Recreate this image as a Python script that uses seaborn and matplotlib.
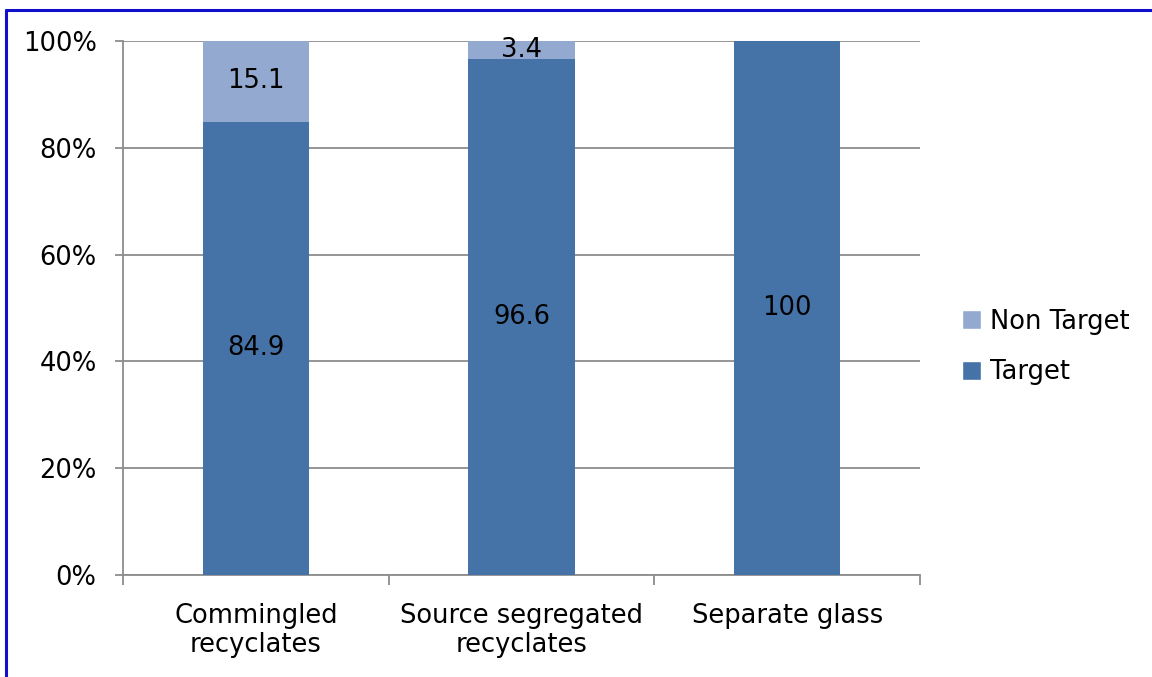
import matplotlib
matplotlib.use("Agg")
import matplotlib.pyplot as plt
from matplotlib.lines import Line2D
from matplotlib.patches import Patch
from matplotlib.ticker import PercentFormatter
import seaborn as sns
import pandas as pd

categories = ["Commingled\nrecyclates", "Source segregated\nrecyclates", "Separate glass"]
target = [84.9, 96.6, 100.0]
non_target = [15.1, 3.4, 0.0]

target_color = "#4673A7"
non_target_color = "#94A9CF"
grid_color = "#8C8C8C"

sns.set_theme(style="white")
plt.rcParams["font.family"] = ["DejaVu Sans"]

df = pd.DataFrame({"category": categories, "Target": target, "Non Target": non_target})
df["total"] = df["Target"] + df["Non Target"]

fig = plt.figure(figsize=(11.52, 6.77), dpi=100)
ax = fig.add_axes([123 / 1152, 1 - 575 / 677, (920 - 123) / 1152, (575 - 41) / 677])

# stacked bars: full height in the light colour, target share drawn over it
sns.barplot(data=df, x="category", y="total", color=non_target_color, width=0.4,
            saturation=1, linewidth=0, ax=ax, zorder=2)
sns.barplot(data=df, x="category", y="Target", color=target_color, width=0.4,
            saturation=1, linewidth=0, ax=ax, zorder=3)

top_bars = ax.patches[:len(categories)]
low_bars = ax.patches[len(categories):]
fs = 18.5
for bar, val in zip(low_bars, target):
    ax.text(bar.get_x() + bar.get_width() / 2, val / 2, f"{val:g}",
            ha="center", va="center", fontsize=fs, color="black", zorder=5)
for bar, lo, val in zip(top_bars, target, non_target):
    if val > 0:
        ax.text(bar.get_x() + bar.get_width() / 2, lo + val / 2, f"{val:g}",
                ha="center", va="center", fontsize=fs, color="black", zorder=5)

ax.set_xlim(-0.5, 2.5)
ax.set_ylim(0, 100)
ax.set_yticks([0, 20, 40, 60, 80, 100])
ax.yaxis.set_major_formatter(PercentFormatter(decimals=0))
ax.set_xlabel("")
ax.set_ylabel("")

ax.yaxis.grid(True, color=grid_color, linewidth=1.3, zorder=1)
ax.set_axisbelow(True)
for side in ["top", "right"]:
    ax.spines[side].set_visible(False)
for side in ["left", "bottom"]:
    ax.spines[side].set_color(grid_color)
    ax.spines[side].set_linewidth(1.3)

ax.tick_params(axis="y", which="major", left=True, length=6, width=1.3,
               color=grid_color, labelsize=fs, pad=13, labelcolor="black")
ax.set_xticks([-0.5, 0.5, 1.5, 2.5], minor=True)
ax.tick_params(axis="x", which="minor", bottom=True, length=7, width=1.3,
               color=grid_color)
ax.tick_params(axis="x", which="major", bottom=False, length=0, labelsize=fs,
               pad=20, labelcolor="black")
for lbl in ax.get_xticklabels():
    lbl.set_linespacing(1.15)

handles = [Patch(facecolor=non_target_color, label="Non Target"),
           Patch(facecolor=target_color, label="Target")]
leg = fig.legend(handles=handles, loc="center left", bbox_to_anchor=(962 / 1152, 1 - 347 / 677),
                 frameon=False, fontsize=fs, handlelength=0.75, handleheight=0.75,
                 handletextpad=0.35, labelspacing=0.95, borderaxespad=0, borderpad=0)
for t in leg.get_texts():
    t.set_color("black")

# blue frame along the left and top edges
fig.add_artist(Line2D([6 / 1152, 6 / 1152], [0, 1 - 10 / 677], color="#1010CC", linewidth=2.2,
                      transform=fig.transFigure))
fig.add_artist(Line2D([6 / 1152, 1], [1 - 10 / 677, 1 - 10 / 677], color="#1010CC",
                      linewidth=2.2, transform=fig.transFigure))

fig.savefig("out.png", dpi=100, facecolor="white")
